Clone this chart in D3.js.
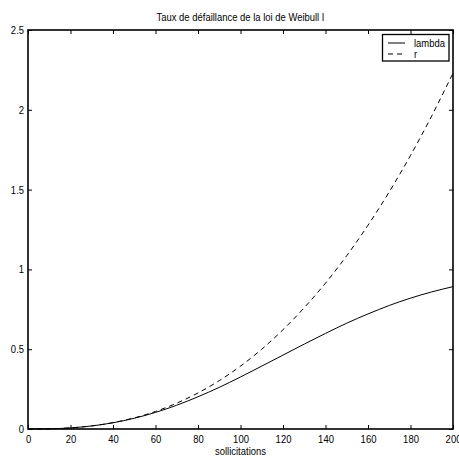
<!DOCTYPE html>
<html>
<head>
<meta charset="utf-8">
<script src="https://cdn.jsdelivr.net/npm/d3@7"></script>
<style>
  body { margin: 0; background: #fff; }
  svg { display: block; font-family: "Liberation Sans", Arial, sans-serif; }
</style>
</head>
<body>
<svg id="chart" width="459" height="456"></svg>
<script>
// Number of solicitations
const sollicitations = [0, 10, 20, 30, 40, 50, 60, 70, 80, 90, 100,
  110, 120, 130, 140, 150, 160, 170, 180, 190, 200];
// Discrete failure rate lambda
const lambdaValues = [0, 0.00125, 0.0070, 0.0192, 0.0391, 0.0673, 0.104, 0.149, 0.202, 0.261, 0.326,
  0.394, 0.463, 0.532, 0.599, 0.663, 0.721, 0.774, 0.820, 0.859, 0.892];
// Continuous hazard rate r
const rValues = [0, 0.00125, 0.0071, 0.0194, 0.0399, 0.0697, 0.110, 0.162, 0.226, 0.303, 0.394,
  0.500, 0.622, 0.760, 0.914, 1.086, 1.277, 1.486, 1.714, 1.962, 2.23];
const xTicks = [0, 20, 40, 60, 80, 100, 120, 140, 160, 180, 200];
const yTicks = [0, 0.5, 1, 1.5, 2, 2.5];
const seriesNames = ["lambda", "r"];
const titleText = "Taux de défaillance de la loi de Weibull I";
const xLabelText = "sollicitations";

const svg = d3.select("#chart");
const plotLeft = 28, plotRight = 453, plotTop = 30, plotBottom = 429;
const squeeze = 0.86; // horizontal compression of the narrow font

const x = d3.scaleLinear().domain([0, 200]).range([plotLeft, plotRight]);
const y = d3.scaleLinear().domain([0, 2.5]).range([plotBottom, plotTop]);

const fmt = d => String(d);

// Compress a text horizontally around its own anchor point
function narrow(sel) {
  sel.each(function () {
    const t = d3.select(this);
    const tx = +t.attr("x") || 0, ty = +t.attr("y") || 0;
    t.attr("transform", `translate(${tx},${ty}) scale(${squeeze},1) translate(${-tx},${-ty})`);
  });
}

// Bottom axis with inward ticks
const gx = svg.append("g").attr("transform", `translate(0,${plotBottom})`)
  .call(d3.axisBottom(x).tickValues(xTicks).tickFormat(fmt).tickSizeInner(-4).tickSizeOuter(0).tickPadding(6));
// Top mirrored ticks
const gxt = svg.append("g").attr("transform", `translate(0,${plotTop})`)
  .call(d3.axisTop(x).tickValues(xTicks).tickFormat("").tickSizeInner(-4).tickSizeOuter(0));
// Left axis
const gy = svg.append("g").attr("transform", `translate(${plotLeft},0)`)
  .call(d3.axisLeft(y).tickValues(yTicks).tickFormat(fmt).tickSizeInner(-4).tickSizeOuter(0).tickPadding(4));
// Right mirrored ticks
const gyr = svg.append("g").attr("transform", `translate(${plotRight},0)`)
  .call(d3.axisRight(y).tickValues(yTicks).tickFormat("").tickSizeInner(-4).tickSizeOuter(0));

[gx, gxt, gy, gyr].forEach(g => {
  g.select(".domain").remove();
  g.selectAll(".tick line").attr("stroke", "#000").attr("stroke-width", 1);
  g.selectAll(".tick text").attr("font-size", 11).attr("fill", "#000")
    .attr("font-family", "\"Liberation Sans\", Arial, sans-serif")
    .call(narrow);
});

// Frame
svg.append("rect").attr("x", plotLeft).attr("y", plotTop)
  .attr("width", plotRight - plotLeft).attr("height", plotBottom - plotTop)
  .attr("fill", "none").attr("stroke", "#000").attr("stroke-width", 1.6);

// Curves
const line = vals => d3.line()
  .x((d, i) => x(sollicitations[i]))
  .y(d => y(d))
  .curve(d3.curveMonotoneX)(vals);

svg.append("path").attr("d", line(lambdaValues))
  .attr("fill", "none").attr("stroke", "#000").attr("stroke-width", 1);
svg.append("path").attr("d", line(rValues))
  .attr("fill", "none").attr("stroke", "#000").attr("stroke-width", 1)
  .attr("stroke-dasharray", "5,4");

// Title and axis label
svg.append("text").attr("x", (plotLeft + plotRight) / 2).attr("y", 21)
  .attr("text-anchor", "middle").attr("font-size", 11).text(titleText).call(narrow);
svg.append("text").attr("x", (plotLeft + plotRight) / 2).attr("y", 455)
  .attr("text-anchor", "middle").attr("font-size", 11).text(xLabelText).call(narrow);

// Legend
const lg = svg.append("g");
lg.append("rect").attr("x", 382.5).attr("y", 34.5).attr("width", 66.5).attr("height", 26.5)
  .attr("fill", "#fff").attr("stroke", "#000").attr("stroke-width", 1.3);
seriesNames.forEach((name, i) => {
  const yy = 43 + i * 11;
  lg.append("line").attr("x1", 388).attr("x2", 405).attr("y1", yy).attr("y2", yy)
    .attr("stroke", "#000").attr("stroke-width", 1)
    .attr("stroke-dasharray", i === 1 ? "5,4" : null);
  lg.append("text").attr("x", 414).attr("y", yy + 4).attr("font-size", 11).text(name).call(narrow);
});
</script>
</body>
</html>
